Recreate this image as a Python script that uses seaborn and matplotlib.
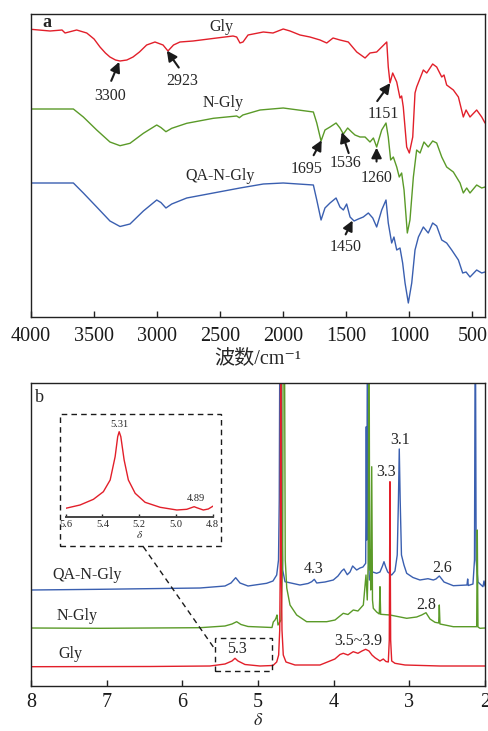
import numpy as np
import pandas as pd
import matplotlib
matplotlib.use("Agg")
import matplotlib.pyplot as plt
import seaborn as sns
from matplotlib.patches import Rectangle

# ---------------- FTIR data (panel a) ----------------
gly_wn = [4000, 3849, 3754, 3730, 3638, 3558, 3500, 3453, 3410, 3374, 3330, 3294, 3240, 3191,
          3140, 3083, 3017, 2953, 2914, 2870, 2819, 2715, 2527, 2398, 2369, 2343, 2319, 2279,
          2158, 2081, 2000, 1946, 1867, 1788, 1708, 1655, 1605, 1550, 1484, 1417, 1351, 1312,
          1259, 1219, 1179, 1167, 1153, 1132, 1100, 1074, 1061, 1048, 1021, 1000, 973, 955,
          942, 889, 862, 815, 783, 743, 725, 704, 651, 611, 572, 550, 519, 466, 426, 400]
gly_t = [290.7, 289, 290, 287, 290, 287, 281, 273, 267, 263, 260, 259, 260, 263,
         268, 275, 278, 275, 269, 275, 278, 279, 282, 284, 283, 277, 278, 285,
         288, 287, 291, 289, 285, 283, 280, 277, 282, 280, 278, 268, 262, 267,
         268, 273, 278, 253, 237, 247, 238, 222, 224, 213, 173, 167, 183, 227,
         233, 250, 247, 256, 253, 243, 245, 235, 230, 223, 203, 210, 203, 210, 203, 197]

ngly_wn = [4000, 3664, 3585, 3479, 3374, 3294, 3215, 3109, 3003, 2970, 2930, 2884, 2765, 2554,
           2369, 2348, 2320, 2184, 2000, 1761, 1734, 1700, 1669, 1629, 1581, 1550, 1523, 1489,
           1457, 1431, 1391, 1351, 1312, 1285, 1259, 1219, 1185, 1167, 1148, 1127, 1100, 1080,
           1061, 1042, 1016, 995, 968, 942, 915, 884, 850, 815, 783, 743, 704, 651, 598, 572,
           545, 519, 466, 426, 400]
ngly_t = [211, 211, 203, 190, 178, 174.3, 176.7, 186.7, 195, 192.5, 188.3, 191.7, 196.7, 201.7,
          204, 202.3, 205, 210, 212, 208, 197, 179, 190, 193, 197, 192, 186, 192,
          188, 185, 183, 183, 178, 182, 173, 190, 197, 183, 160, 163, 153, 143,
          147, 130, 87, 100, 143, 170, 167, 178, 173, 179, 177, 163, 153, 148, 137, 127,
          132, 127, 135, 132, 133]

qangly_wn = [4000, 3664, 3585, 3479, 3374, 3294, 3215, 3109, 3003, 2970, 2930, 2884, 2765, 2554,
             2343, 2158, 2000, 1761, 1734, 1700, 1669, 1629, 1581, 1550, 1523, 1497, 1470, 1438,
             1404, 1365, 1325, 1290, 1259, 1219, 1185, 1167, 1140, 1122, 1100, 1074, 1053, 1034,
             1008, 981, 955, 928, 889, 850, 815, 783, 743, 704, 664, 611, 577, 550, 519, 466,
             426, 400]
qangly_t = [137, 137, 127, 113, 99, 93.5, 96, 109, 120, 117.5, 112, 116, 122, 127,
            132, 136, 137, 135, 120, 100, 112, 117, 122, 113, 110, 116, 103, 99,
            101, 103, 107, 102, 93, 110, 120, 97, 77, 83, 70, 72, 57, 37,
            17, 37, 70, 83, 93, 87, 97, 94, 80, 77, 70, 60, 47, 48, 43, 50,
            47, 48]

ir_names = ["Gly", "N-Gly", "QA-N-Gly"]
ir_peak_labels = ["3300", "2923", "1151", "1695", "1536", "1260", "1450"]
ir_peak_series = ["Gly", "Gly", "Gly", "N-Gly", "N-Gly", "N-Gly", "QA-N-Gly"]
ir_xticks = [4000, 3500, 3000, 2500, 2000, 1500, 1000, 500]

# ---------------- 1H NMR data (panel b) ----------------
nmr_gly_d = [8.0, 6.427, 5.634, 5.436, 5.344, 5.304, 5.264, 5.172, 4.974, 4.802, 4.753, 4.727,
             4.713, 4.705, 4.700, 4.692, 4.683, 4.666, 4.630, 4.511, 4.181, 4.115, 3.984, 3.916,
             3.873, 3.811, 3.741, 3.679, 3.626, 3.577, 3.533, 3.494, 3.454, 3.388, 3.344, 3.309,
             3.278, 3.265, 3.256, 3.247, 3.233, 3.190, 3.057, 2.595, 2.0]
nmr_gly_i = [19.3, 19.5, 20, 22, 25, 27.7, 25, 21.5, 20, 20.5, 24, 31,
             56, 126, 400, 126, 56, 31, 24, 21, 21, 23, 27, 31.5,
             32.7, 31, 34.3, 32.7, 35, 36.7, 35, 31, 28.3, 25, 27, 24.5,
             24, 46, 204.3, 46, 25, 22.7, 21, 20, 20]

nmr_ngly_d = [8.0, 7.088, 6.427, 5.767, 5.436, 5.344, 5.282, 5.225, 5.132, 4.974, 4.815, 4.798,
              4.775, 4.762, 4.749, 4.736, 4.696, 4.674, 4.666, 4.652, 4.640, 4.620, 4.577, 4.489,
              4.357, 4.092, 3.982, 3.873, 3.811, 3.741, 3.679, 3.608, 3.573, 3.556, 3.543, 3.533,
              3.524, 3.516, 3.510, 3.497, 3.487, 3.476, 3.432, 3.397, 3.388, 3.379, 3.256, 3.035,
              2.903, 2.837, 2.780, 2.727, 2.661, 2.612, 2.604, 2.595, 2.419, 2.110, 2.102, 2.093,
              2.066, 2.0]
nmr_ngly_i = [58, 57.7, 58, 58.3, 60, 62, 64.3, 61.5, 59.5, 59, 58.5, 64,
              66, 68, 71, 61, 66, 126, 400, 400, 126, 98, 81, 71,
              64.3, 64.3, 66, 72.7, 71.5, 76, 75, 81, 111, 86, 126, 400,
              116, 136, 96, 219.3, 86, 77.7, 74, 72, 99.3, 71.7, 71, 67.7,
              69, 71, 73.3, 67, 63.7, 63, 81, 62, 59.3, 59.3, 156, 59,
              57.7, 58]

nmr_qa_d = [8.0, 7.088, 5.767, 5.436, 5.357, 5.295, 5.238, 5.132, 4.886, 4.802, 4.753, 4.729,
            4.719, 4.709, 4.696, 4.687, 4.674, 4.643, 4.445, 4.339, 4.290, 4.256, 4.224, 4.115,
            4.005, 3.943, 3.894, 3.864, 3.820, 3.784, 3.749, 3.696, 3.652, 3.613, 3.577, 3.569,
            3.562, 3.553, 3.540, 3.527, 3.497, 3.432, 3.388, 3.355, 3.335, 3.312, 3.286, 3.233,
            3.190, 3.160, 3.144, 3.133, 3.121, 3.104, 3.071, 3.035, 2.952, 2.860, 2.754, 2.683,
            2.648, 2.604, 2.572, 2.542, 2.419, 2.238, 2.229, 2.221, 2.159, 2.139, 2.128, 2.117,
            2.093, 2.027, 2.013, 2.0]
nmr_qa_i = [96, 96.7, 98, 100, 103, 108.3, 103, 100, 102.7, 105, 111, 126,
            186, 400, 400, 186, 116, 104.3, 101, 102.5, 104.3, 106.7, 103, 104,
            106, 110, 115, 117, 111.3, 114, 120, 116, 118, 119, 122.7, 259.3,
            146, 400, 126, 106, 114.3, 112.7, 114, 120, 124.3, 119, 114, 111,
            115, 131, 186, 237, 186, 131, 121, 112.7, 108.5, 106, 107.3, 106,
            107, 110, 107, 104, 100.3, 101, 107, 100.5, 102, 126, 400, 126,
            104, 99.3, 105, 100]

# inset: Gly 5.6 - 4.8 ppm
inset_d = [5.60, 5.522, 5.449, 5.395, 5.358, 5.331, 5.317, 5.309, 5.300, 5.282, 5.259, 5.222,
           5.168, 5.086, 4.995, 4.941, 4.901, 4.887, 4.851, 4.824, 4.797]
inset_i = [9, 12.3, 18, 25.6, 37.3, 60.6, 80.6, 85.6, 80.6, 57.3, 37.3, 24,
           15, 10, 7.3, 8, 10.6, 9.6, 7.3, 8.3, 11.3]
inset_xticks = [5.6, 5.4, 5.2, 5.0, 4.8]
nmr_xticks = [8, 7, 6, 5, 4, 3, 2]

RED, GREEN, BLUE = "#e21f2a", "#5a9a28", "#3a5fb0"

sns.set_theme(style="ticks")
FAM = ["Liberation Serif", "Noto Sans CJK SC", "DejaVu Sans"]
plt.rcParams["font.family"] = FAM
plt.rcParams["mathtext.fontset"] = "stix"

W, H = 489, 731
fig = plt.figure(figsize=(W / 100, H / 100), dpi=100)

def fpos(l, t, r, b):
    return [l / W, 1 - b / H, (r - l) / W, (b - t) / H]

ax_a = fig.add_axes(fpos(31, 14, 485, 317))
ax_b = fig.add_axes(fpos(31, 383, 485, 686))

# ---------------- panel a ----------------
ir = {"Gly": (gly_wn, gly_t, RED), "N-Gly": (ngly_wn, ngly_t, GREEN),
      "QA-N-Gly": (qangly_wn, qangly_t, BLUE)}
for name in ["QA-N-Gly", "N-Gly", "Gly"]:
    wn, t, c = ir[name]
    sns.lineplot(x=wn, y=t, ax=ax_a, color=c, lw=1.0, sort=False, estimator=None)

ax_a.set_xlim(4000, 400)
ax_a.set_ylim(3, 306)
ax_a.set_yticks([])
ax_a.set_xticks(ir_xticks)
ax_a.set_xticklabels([str(v) for v in ir_xticks])
ax_a.set_xlabel("波数/cm\u207b\u00b9", fontsize=14.5, family=FAM)
ax_a.xaxis.set_label_coords(0.5, -0.137)
ax_a.xaxis.label.set_va("center")

ir_label_pos = {"Gly": (2488, 293.3), "N-Gly": (2477, 217), "QA-N-Gly": (2501, 144)}
for name, (x, y) in ir_label_pos.items():
    ax_a.text(x, y, name, fontsize=11.5, ha="center", va="center")
ax_a.text(3876, 297.3, "a", fontsize=13, fontweight="bold", ha="center", va="center")

# arrow offsets (points): tail, text
arrow_off = {"3300": ((-5.8, -13.7), (-6.5, -24.5)),
             "2923": ((8.6, -12.2), (10.8, -21.6)),
             "1151": ((-9.4, -13.0), (-5.0, -22.3)),
             "1695": ((-5.8, -10.8), (-10.8, -20.9)),
             "1536": ((5.0, -15.1), (2.9, -22.3)),
             "1260": ((0.0, -10.0), (0.0, -21.6)),
             "1450": ((-5.0, -10.0), (-5.0, -19.4))}
for lab, sname in zip(ir_peak_labels, ir_peak_series):
    wn, t, c = ir[sname]
    xv = float(lab)
    yv = np.interp(xv, wn[::-1], t[::-1]) - 1
    tail, toff = arrow_off[lab]
    ax_a.annotate("", xy=(xv, yv), xytext=tail, textcoords="offset points",
                  arrowprops=dict(arrowstyle="-|>", color="k", lw=1.5,
                                  mutation_scale=15, shrinkA=0, shrinkB=0))
    ax_a.annotate(lab, xy=(xv, yv), xytext=toff, textcoords="offset points",
                  fontsize=11.5, ha="center", va="center")

# ---------------- panel b ----------------
nmr = {"QA-N-Gly": (nmr_qa_d, nmr_qa_i, BLUE), "N-Gly": (nmr_ngly_d, nmr_ngly_i, GREEN),
       "Gly": (nmr_gly_d, nmr_gly_i, RED)}
for name in ["QA-N-Gly", "N-Gly", "Gly"]:
    d, i, c = nmr[name]
    sns.lineplot(x=d, y=i, ax=ax_b, color=c, lw=1.0, sort=False, estimator=None)

ax_b.set_xlim(8, 2)
ax_b.set_ylim(0, 303)
ax_b.set_yticks([])
ax_b.set_xticks(nmr_xticks)
ax_b.set_xticklabels([str(v) for v in nmr_xticks])
ax_b.set_xlabel(r"$\delta$", fontsize=13)
ax_b.xaxis.set_label_coords(0.5, -0.141)
ax_b.xaxis.label.set_va("bottom")

nmr_label_pos = {"QA-N-Gly": (7.264, 111), "N-Gly": (7.396, 70.3), "Gly": (7.475, 31.7)}
for name, (x, y) in nmr_label_pos.items():
    ax_b.text(x, y, name, fontsize=11.5, ha="center", va="center")
ax_b.text(7.894, 288, "b", fontsize=13, ha="center", va="center")

peak_txt = [("5.3", 5.282, 36.7), ("3.5~3.9", 3.675, 45.3), ("4.3", 4.269, 116.7),
            ("3.3", 3.309, 214.3), ("3.1", 3.124, 246), ("2.6", 2.573, 118.3),
            ("2.8", 2.771, 81)]
for s, x, y in peak_txt:
    ax_b.text(x, y, s, fontsize=11.5, ha="center", va="center")

dash = (0, (4, 3))
ax_b.add_patch(Rectangle((5.57, 15), 4.81 - 5.57, 48.3 - 15, fill=False, ec="k",
                         lw=1.0, ls=dash, zorder=5))
ax_b.add_patch(Rectangle((7.617, 140), 5.493 - 7.617, 271.7 - 140, fill=False, ec="k",
                         lw=1.0, ls=dash, zorder=5))
ax_b.plot([6.516, 5.578], [139.3, 37.7], color="k", lw=1.0, ls=dash, zorder=5)

for ax, pad in ((ax_a, 7), (ax_b, 5)):
    for sp in ax.spines.values():
        sp.set_visible(True)
        sp.set_linewidth(1.0)
        sp.set_color("#222222")
    ax.tick_params(axis="x", direction="in", length=4, width=1.0, labelsize=14.5,
                   pad=pad, colors="#222222", labelcolor="k")

# inset
ax_in = fig.add_axes(fpos(65.7, 425, 212.7, 517.3))
ax_in.patch.set_alpha(0)
sns.lineplot(x=inset_d, y=inset_i, ax=ax_in, color=RED, lw=1.0, sort=False, estimator=None)
ax_in.set_xlim(5.6, 4.8)
ax_in.set_ylim(0, 92.3)
ax_in.set_yticks([])
ax_in.set_xticks(inset_xticks)
ax_in.set_xticklabels([f"{v:.1f}" for v in inset_xticks])
for k in ("left", "right", "top"):
    ax_in.spines[k].set_visible(False)
ax_in.spines["bottom"].set_linewidth(1.4)
ax_in.spines["bottom"].set_color("#444444")
ax_in.tick_params(axis="x", direction="in", length=2.5, width=1.0, labelsize=7.5, pad=2)
ax_in.set_xlabel(r"$\delta$", fontsize=8, labelpad=0)
ax_in.text(5.309, 92.5, "5.31", fontsize=7.5, ha="center", va="center", clip_on=False)
ax_in.text(4.89, 19, "4.89", fontsize=7.5, ha="center", va="center")

fig.savefig("out.png", dpi=100)
